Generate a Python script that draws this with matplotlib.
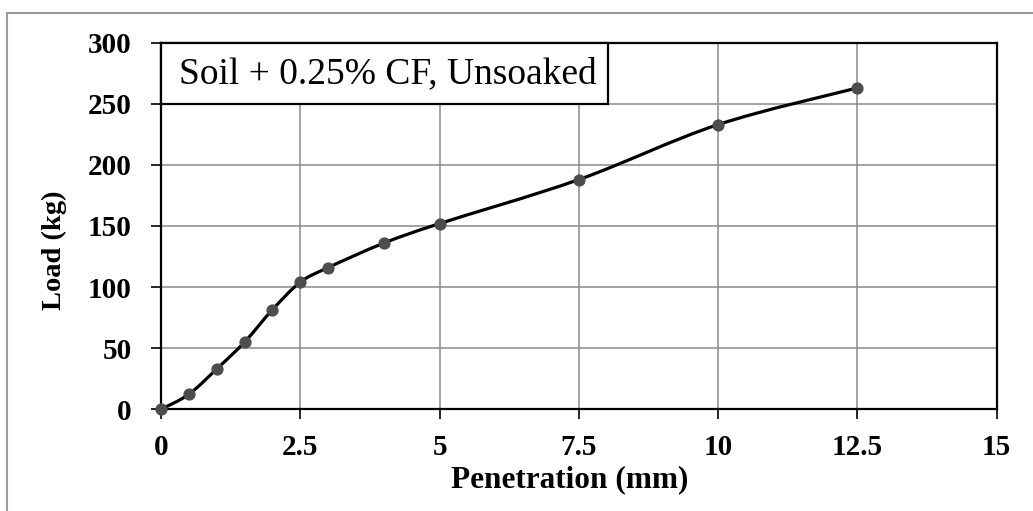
import numpy as np
import matplotlib
matplotlib.use("Agg")
import matplotlib.pyplot as plt
from matplotlib.path import Path
from matplotlib.patches import PathPatch, Rectangle
from matplotlib.lines import Line2D

# ---- data ----
penetration_mm = [0, 0.5, 1, 1.5, 2, 2.5, 3, 4, 5, 7.5, 10, 12.5]
load_kg = [0, 12.3, 33, 55, 81.5, 104, 116, 136, 152, 188, 233, 263]
x_ticks = [0, 2.5, 5, 7.5, 10, 12.5, 15]
x_tick_labels = ["0", "2.5", "5", "7.5", "10", "12.5", "15"]
y_ticks = [0, 50, 100, 150, 200, 250, 300]
y_tick_labels = ["0", "50", "100", "150", "200", "250", "300"]
box_title = "Soil + 0.25% CF, Unsoaked"
x_label = "Penetration (mm)"
y_label = "Load (kg)"

plt.rcParams['font.family'] = ['Liberation Serif', 'DejaVu Serif']

W, H, DPI = 1033, 511, 100
fig = plt.figure(figsize=(W / DPI, H / DPI), dpi=DPI)
ax = fig.add_axes([161 / W, 1 - 409.3 / H, (996.7 - 161) / W, (409.3 - 42.7) / H])

# smooth (Excel-like) curve through the points
pts = np.column_stack([penetration_mm, load_kg]).astype(float)
n = len(pts)
verts = [pts[0]]
codes = [Path.MOVETO]
for i in range(n - 1):
    p0 = pts[i - 1] if i > 0 else pts[i]
    p1 = pts[i]
    p2 = pts[i + 1]
    p3 = pts[i + 2] if i + 2 < n else pts[i + 1]
    c1 = p1 + (p2 - p0) / 6.0
    c2 = p2 - (p3 - p1) / 6.0
    verts += [c1, c2, p2]
    codes += [Path.CURVE4] * 3
ax.add_patch(PathPatch(Path(verts, codes), facecolor='none', edgecolor='black',
                       lw=2.3, zorder=3, clip_on=False))
ax.plot(penetration_mm, load_kg, linestyle='none', marker='o', markersize=7.8,
        color='#4d4d4d', zorder=4, clip_on=False)

ax.set_xlim(0, 15)
ax.set_ylim(0, 300)
ax.set_xticks(x_ticks)
ax.set_xticklabels(x_tick_labels)
ax.set_yticks(y_ticks)
ax.set_yticklabels(y_tick_labels)
ax.grid(True, color='#8a8a8a', lw=1.1)
ax.set_axisbelow(True)
for s in ax.spines.values():
    s.set_linewidth(1.6)
    s.set_color('black')
ax.tick_params(axis='both', direction='out', length=7, width=1.2, colors='black',
               labelsize=21)
ax.tick_params(axis='x', pad=11)
ax.tick_params(axis='y', pad=14)
for lab in ax.get_xticklabels() + ax.get_yticklabels():
    lab.set_fontweight('bold')

ax.set_xlabel(x_label, fontsize=22.5, fontweight='bold')
ax.set_ylabel(y_label, fontsize=20.5, fontweight='bold')
ax.xaxis.set_label_coords(0.4894, -0.193)
ax.yaxis.set_label_coords(-0.127, 0.4345)
ax.xaxis.label.set_va('center')
ax.yaxis.label.set_va('center')

# title box
bx0, by0 = 0.0, (409.3 - 104.3) / 366.6
bx1, by1 = (608 - 161) / 835.7, 1.0
ax.add_patch(Rectangle((bx0, by0), bx1 - bx0, by1 - by0, transform=ax.transAxes,
                       facecolor='white', edgecolor='black', lw=1.6, zorder=5,
                       clip_on=False))
ax.text((bx0 + bx1) / 2 + 0.004, (by0 + by1) / 2, box_title, transform=ax.transAxes,
        ha='center', va='center', fontsize=27, zorder=6)

# outer chart border (top and left visible)
fig.add_artist(Line2D([7 / W, 1], [1 - 13 / H, 1 - 13 / H], color='#9a9a9a', lw=1.5,
                      transform=fig.transFigure))
fig.add_artist(Line2D([7 / W, 7 / W], [0, 1 - 13 / H], color='#9a9a9a', lw=1.5,
                      transform=fig.transFigure))

fig.savefig("out.png", dpi=DPI, facecolor='white')
